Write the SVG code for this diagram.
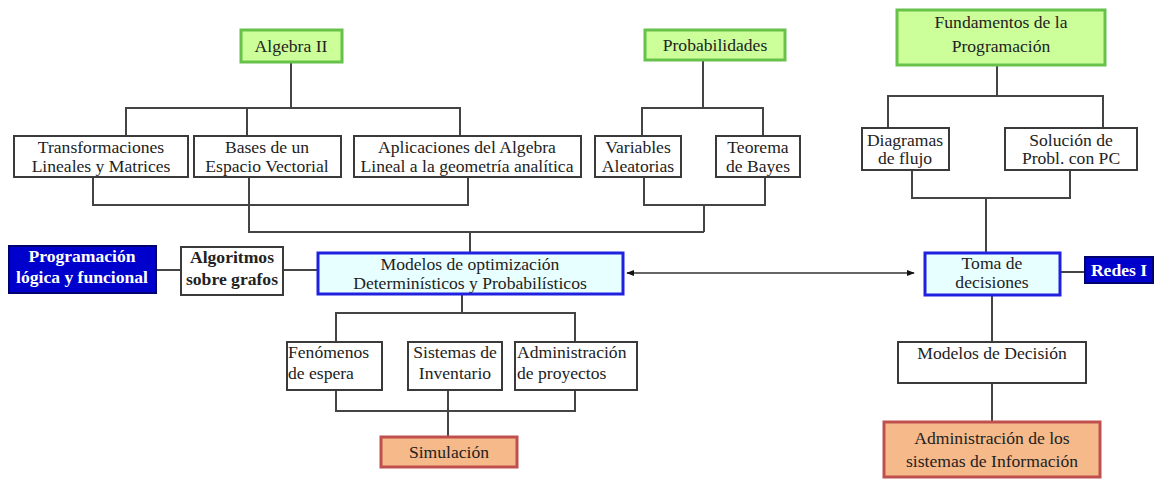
<svg xmlns="http://www.w3.org/2000/svg" width="1156" height="479" viewBox="0 0 1156 479" font-family="'Liberation Serif', 'Times New Roman', 'DejaVu Serif', serif">
<defs>
<marker id="ah" viewBox="0 0 10 10" refX="9" refY="5" markerWidth="8" markerHeight="8" markerUnits="userSpaceOnUse" orient="auto-start-reverse">
<path d="M0,1 L10,5 L0,9 z" fill="#111"/>
</marker>
</defs>
<style>
text{font-family:'Liberation Serif','Times New Roman','DejaVu Serif',serif;font-size:17.6px;fill:#222;text-anchor:middle}
.w{fill:#fff;stroke:#3a3a3a;stroke-width:2}
.g{fill:#ccff99;stroke:#66c24a;stroke-width:3}
.b{fill:#0000cc;stroke:#00006e;stroke-width:2}
.c{fill:#e8ffff;stroke:#2020e0;stroke-width:3}
.o{fill:#f5b98a;stroke:#c0504d;stroke-width:3}
.wt{fill:#fff;font-weight:bold}
.bd{font-weight:bold}
.l{text-anchor:start}
.cn{fill:none;stroke:#444;stroke-width:2}
</style>
<rect width="1156" height="479" fill="#fff"/>
<g id="connectors" class="cn">
<path d="M291,62 V108 M126,136 V108 H460 V136 M247,108 V136"/>
<path d="M703,60 V108 M642,136 V108 H763 V136"/>
<path d="M93,177 V205 H468 V177 M249,177 V232 H704 M470,232 V252"/>
<path d="M644,177 V205 H765 V177 M704,205 V232"/>
<path d="M997,65 V96 M888,128 V96 H1103 V128"/>
<path d="M912,170 V198 H1070 V170 M986,198 V253"/>
<path d="M156,270 H181 M283,270 H318"/>
<path d="M1060,272 H1085"/>
<path d="M462,294 V313 M336,342 V313 H575 V342"/>
<path d="M336,390 V411 H575 V390 M448,390 V437"/>
<path d="M992,295 V342 M992,383 V422"/>
<path d="M627,273 H914" marker-start="url(#ah)" marker-end="url(#ah)" stroke="#666"/>
</g>
<g id="algebra2"><rect class="g" x="241" y="30" width="101" height="32"/><text x="291" y="52">Algebra II</text></g>
<g id="probabilidades"><rect class="g" x="645" y="30" width="140" height="30"/><text x="715" y="51">Probabilidades</text></g>
<g id="fundamentos"><rect class="g" x="897" y="10" width="208" height="55"/><text x="1001" y="28">Fundamentos de la</text><text x="1001" y="52">Programación</text></g>
<g id="transformaciones"><rect class="w" x="14" y="136" width="174" height="41"/><text x="101" y="153">Transformaciones</text><text x="101" y="172">Lineales y Matrices</text></g>
<g id="bases"><rect class="w" x="194" y="136" width="147" height="41"/><text x="267" y="153">Bases de un</text><text x="267" y="172">Espacio Vectorial</text></g>
<g id="aplicaciones"><rect class="w" x="354" y="136" width="227" height="41"/><text x="467" y="153">Aplicaciones del Algebra</text><text x="467" y="172">Lineal a la geometría analítica</text></g>
<g id="variables"><rect class="w" x="595" y="136" width="86" height="41"/><text x="638" y="153">Variables</text><text x="638" y="172">Aleatorias</text></g>
<g id="teorema"><rect class="w" x="716" y="136" width="84" height="41"/><text x="758" y="153">Teorema</text><text x="758" y="172">de Bayes</text></g>
<g id="diagramas"><rect class="w" x="862" y="128" width="87" height="42"/><text x="905" y="146">Diagramas</text><text x="905" y="164">de flujo</text></g>
<g id="solucion"><rect class="w" x="1005" y="128" width="132" height="42"/><text x="1071" y="146">Solución de</text><text x="1071" y="164">Probl. con PC</text></g>
<g id="programacion"><rect class="b" x="9" y="246" width="147" height="47"/><text class="wt" x="82" y="262">Programación</text><text class="wt" x="82" y="283">lógica y funcional</text></g>
<g id="algoritmos"><rect class="w" x="181" y="247" width="102" height="48"/><text class="bd" x="232" y="263">Algoritmos</text><text class="bd" x="232" y="285">sobre grafos</text></g>
<g id="modelos-opt"><rect class="c" x="318" y="253" width="305" height="41"/><text x="470" y="270">Modelos de optimización</text><text x="470" y="289">Determinísticos y Probabilísticos</text></g>
<g id="toma"><rect class="c" x="925" y="253" width="135" height="42"/><text x="992" y="269">Toma de</text><text x="992" y="288">decisiones</text></g>
<g id="redes"><rect class="b" x="1085" y="257" width="68" height="26"/><text class="wt" x="1119" y="276">Redes I</text></g>
<g id="fenomenos"><rect class="w" x="287" y="342" width="95" height="48"/><text class="l" x="288" y="358">Fenómenos</text><text class="l" x="288" y="379">de espera</text></g>
<g id="sistemas"><rect class="w" x="408" y="342" width="94" height="48"/><text x="455" y="358">Sistemas de</text><text x="455" y="379">Inventario</text></g>
<g id="administracion-proy"><rect class="w" x="515" y="342" width="122" height="48"/><text class="l" x="517" y="358">Administración</text><text class="l" x="517" y="379">de proyectos</text></g>
<g id="simulacion"><rect class="o" x="381" y="437" width="136" height="30"/><text x="449" y="458">Simulación</text></g>
<g id="modelos-decision"><rect class="w" x="898" y="342" width="188" height="41"/><text x="992" y="359">Modelos de Decisión</text></g>
<g id="administracion-si"><rect class="o" x="884" y="422" width="216" height="55"/><text x="992" y="444">Administración de los</text><text x="992" y="467">sistemas de Información</text></g>
</svg>
